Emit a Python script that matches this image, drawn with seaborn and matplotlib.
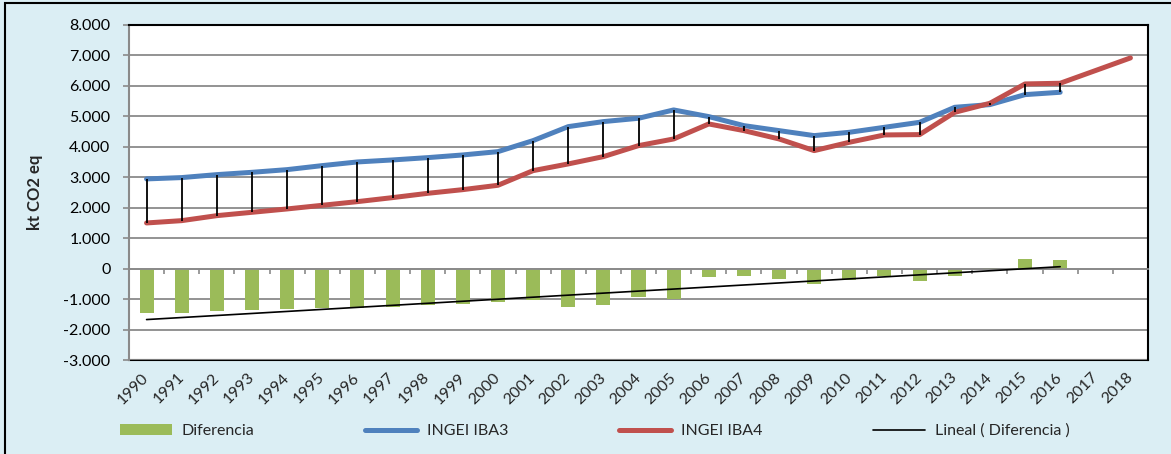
import numpy as np
import pandas as pd
import matplotlib
matplotlib.use("Agg")
import matplotlib.pyplot as plt
import seaborn as sns
from matplotlib.patches import Patch, Rectangle
from matplotlib.lines import Line2D
from matplotlib.ticker import FuncFormatter

# ---------------- data ----------------
years = [str(y) for y in range(1990, 2019)]
iba3 = [2946, 2990, 3087, 3163, 3251, 3383, 3503, 3569, 3645, 3733, 3842,
        4204, 4663, 4828, 4937, 5211, 4992, 4696, 4532, 4368, 4477, 4641,
        4805, 5298, 5386, 5714, 5791]
iba4 = [1500, 1576, 1740, 1850, 1960, 2080, 2200, 2332, 2473, 2594, 2737,
        3218, 3438, 3678, 4039, 4258, 4751, 4532, 4258, 3875, 4149, 4390,
        4401, 5133, 5429, 6065, 6087, 6502, 6919]
diferencia = [-1455, -1467, -1390, -1346, -1324, -1303, -1300, -1270, -1193,
              -1150, -1106, -1018, -1270, -1182, -942, -996, -285, -241, -350,
              -515, -372, -245, -394, -230, 30, 318, 285]
y_ticks = list(range(-3000, 8001, 1000))
legend_labels = ["Diferencia", "INGEI IBA3", "INGEI IBA4", "Lineal ( Diferencia )"]
y_label = "kt CO2 eq"

# ---------------- style ----------------
BLUE = "#4F81BD"
RED = "#C0504D"
GREEN = "#9BBB59"
GRID = "#8A8A8A"
BG = "#DBEEF4"

sns.set_style("white")
plt.rcParams["font.family"] = ["Lato", "DejaVu Sans"]
FS = 11.5

fig = plt.figure(figsize=(11.71, 4.54), dpi=100, facecolor=BG)
ax = fig.add_axes([129 / 1171, 1 - 360 / 454, (1148 - 129) / 1171, (360 - 25) / 454])
ax.set_facecolor("white")

n = len(years)
x3 = np.arange(len(iba3))
x4 = np.arange(len(iba4))
xd = np.arange(len(diferencia))

# bars
bar_df = pd.DataFrame({"year": years[:len(diferencia)], "diff": diferencia})
sns.barplot(data=bar_df, x="year", y="diff", order=years, color=GREEN,
            saturation=1, width=0.4, errorbar=None, linewidth=0, ax=ax, zorder=2)

# trend line (linear fit of Diferencia)
coef = np.polyfit(xd, diferencia, 1)
sns.lineplot(x=xd, y=np.polyval(coef, xd), color="black", linewidth=1.2,
             ax=ax, zorder=3)

# series lines
sns.lineplot(x=x3, y=iba3, color=BLUE, linewidth=3.6, ax=ax, zorder=4,
             solid_capstyle="round", solid_joinstyle="round")
sns.lineplot(x=x4, y=iba4, color=RED, linewidth=3.6, ax=ax, zorder=5,
             solid_capstyle="round", solid_joinstyle="round")

# high-low lines
ax.vlines(x3, np.array(iba4[:len(iba3)]), np.array(iba3), color="black",
          linewidth=1.3, zorder=6)

# axes limits & ticks
ax.set_xlim(-0.5, n - 0.5)
ax.set_ylim(y_ticks[0], y_ticks[-1])
ax.set_yticks(y_ticks)
ax.yaxis.set_major_formatter(FuncFormatter(lambda v, p: f"{int(v):,}".replace(",", ".")))
ax.yaxis.grid(True, color=GRID, linewidth=1.3, zorder=0)
ax.set_axisbelow(True)
ax.tick_params(axis="y", length=4.3, width=1.2, color=GRID, pad=9,
               labelsize=FS, labelcolor="black", left=True)

# category axis crossing at zero with boundary ticks
ax.spines["bottom"].set_position(("data", 0))
ax.spines["bottom"].set_color(GRID)
ax.spines["bottom"].set_linewidth(1.3)
ax.set_xticks([])
ax.set_xticks(np.arange(n + 1) - 0.5, minor=True)
ax.tick_params(axis="x", which="minor", direction="out", length=3.6,
               width=1.2, color=GRID, bottom=True)
ax.spines["left"].set_color(GRID)
ax.spines["left"].set_linewidth(1.5)
for s in ["top", "right"]:
    ax.spines[s].set_color("black")
    ax.spines[s].set_linewidth(1.5)
ax.set_xlabel("")

# labels at bottom of plot area
sec = ax.secondary_xaxis("bottom")
sec.set_xticks(np.arange(n), labels=years)
sec.tick_params(length=0, pad=11, labelsize=FS)
for lab in sec.get_xticklabels():
    lab.set_rotation(45)
    lab.set_ha("right")
    lab.set_va("center")
    lab.set_rotation_mode("anchor")
sec.spines["bottom"].set_color("black")
sec.spines["bottom"].set_linewidth(1.5)

ax.set_ylabel(y_label, fontsize=FS + 0.5, fontweight="bold")
ax.yaxis.set_label_coords(-0.084, 0.5)

# legend
handles = [
    Patch(facecolor=GREEN, edgecolor="none"),
    Line2D([], [], color=BLUE, linewidth=3.6, solid_capstyle="round"),
    Line2D([], [], color=RED, linewidth=3.6, solid_capstyle="round"),
    Line2D([], [], color="black", linewidth=1.2),
]
fig.legend(handles, legend_labels, loc="center left",
           bbox_to_anchor=(120 / 1171, 1 - 431 / 454), ncol=4, frameon=False,
           fontsize=FS, handlelength=3.25, handletextpad=0.6,
           columnspacing=6.95, borderpad=0, borderaxespad=0)

# outer chart border
fig.patches.append(Rectangle((5 / 1171, -0.2), 1.3, 1.2 - 3 / 454, fill=False,
                             edgecolor="black", linewidth=1.5,
                             transform=fig.transFigure, figure=fig))

fig.savefig("out.png", dpi=100, facecolor=BG)
